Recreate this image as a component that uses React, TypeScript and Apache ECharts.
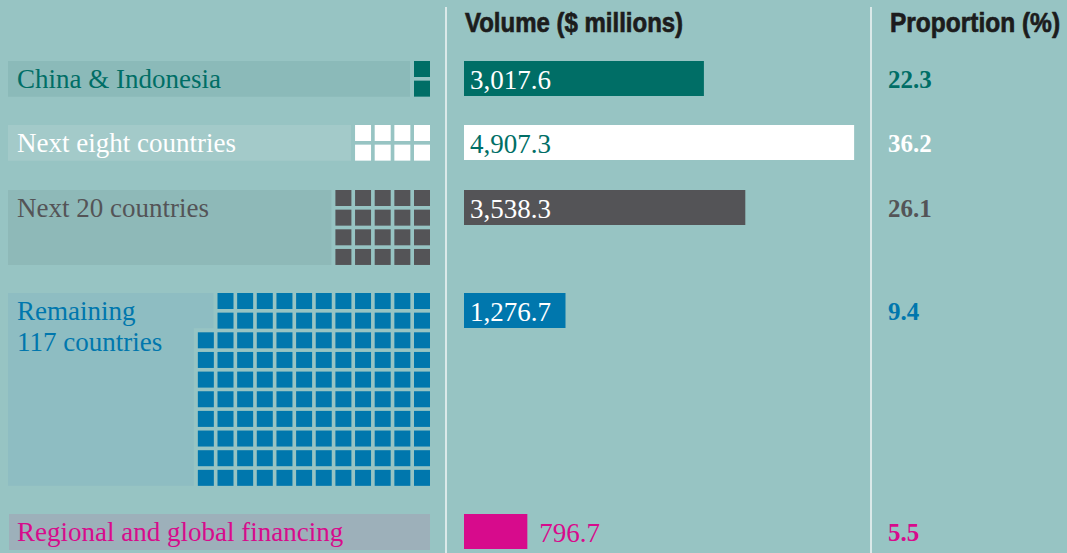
import React, { useEffect, useRef } from "react";
import * as echarts from "echarts";

// ---- data ----
const categories = [
  "China & Indonesia",
  "Next eight countries",
  "Next 20 countries",
  "Remaining\n117 countries",
  "Regional and global financing",
];
const volumes = [3017.6, 4907.3, 3538.3, 1276.7, 796.7];
const volumeLabels = ["3,017.6", "4,907.3", "3,538.3", "1,276.7", "796.7"];
const proportions = [22.3, 36.2, 26.1, 9.4, 5.5];
const countrySquares = [2, 8, 20, 118, 0];
const headers = ["Volume ($ millions)", "Proportion (%)"];

// ---- layout / style ----
const rowTop = [61, 125, 190, 293, 514];
const squareCols = [1, 4, 5, 12, 0];
const squareRows = [2, 2, 4, 10, 0];
const barColors = ["#006e66", "#ffffff", "#545457", "#0077ad", "#d70b8c"];
const textColors = ["#006e66", "#ffffff", "#545457", "#0077ad", "#d70b8c"];
const valueInsideColors = ["#ffffff", "#006e66", "#ffffff", "#ffffff", "#d70b8c"];
const boxFills = ["#8bbab9", "#a3cac9", "#8eb9b8", "#8ebdc2", "#9db0ba"];
const BG = "#97c4c3";
const SERIF = "'Liberation Serif', 'DejaVu Serif', serif";
const SANS = "'Liberation Sans', Arial, sans-serif";

const SQ = 16;
const STEP = 19.65;
const SQ_RIGHT = 430;
const BOX_LEFT = 8;
const BAR_H = 35;

export default function App() {
  const ref = useRef<HTMLDivElement>(null);
  useEffect(() => {
    document.body.style.margin = "0";
    const chart = echarts.init(ref.current!, null, { renderer: "svg" });
    const data = volumes.map((v, i) => [v, rowTop[i], i]);

    const renderItem = (params: any, api: any) => {
      const i = api.value(2);
      const top = api.value(1);
      const children: any[] = [];
      const cols = squareCols[i];
      const rows = squareRows[i];
      const count = countrySquares[i];
      const yTop = api.coord([0, top])[1];

      // label box + squares
      if (cols > 0) {
        const missing = cols * rows - count;
        const colX = (c: number) => SQ_RIGHT - SQ - (cols - 1 - c) * STEP;
        const boxH = rows * STEP - (STEP - SQ);
        if (missing > 0) {
          children.push({
            type: "rect",
            shape: { x: BOX_LEFT, y: yTop, width: colX(1) - 4 - BOX_LEFT, height: missing * STEP - 4 },
            style: { fill: boxFills[i] },
          });
        }
        children.push({
          type: "rect",
          shape: { x: BOX_LEFT, y: yTop, width: colX(0) - 4 - BOX_LEFT, height: boxH },
          style: { fill: boxFills[i] },
        });
        for (let c = 0; c < cols; c++) {
          for (let r = 0; r < rows; r++) {
            if (c === 0 && r < missing) continue;
            children.push({
              type: "rect",
              shape: { x: colX(c), y: yTop + r * STEP, width: SQ, height: SQ },
              style: { fill: barColors[i] },
            });
          }
        }
      } else {
        children.push({
          type: "rect",
          shape: { x: BOX_LEFT + 1, y: yTop, width: SQ_RIGHT - BOX_LEFT - 1, height: 36 },
          style: { fill: boxFills[i] },
        });
      }

      children.push({
        type: "text",
        style: {
          text: categories[i],
          x: 17,
          y: yTop + 2.5,
          fill: textColors[i],
          font: `27px ${SERIF}`,
          lineHeight: 31,
          verticalAlign: "top",
          align: "left",
        },
      });

      // bar
      const p0 = api.coord([0, top]);
      const p1 = api.coord([api.value(0), top]);
      const h = api.size([0, BAR_H])[1];
      const w = p1[0] - p0[0];
      children.push({
        type: "rect",
        shape: { x: p0[0], y: p0[1], width: w, height: h },
        style: { fill: barColors[i] },
      });
      const inside = w > 90;
      children.push({
        type: "text",
        style: {
          text: volumeLabels[i],
          x: inside ? p0[0] + 6 : p1[0] + 12,
          y: p0[1] + h / 2 + 1,
          fill: inside ? valueInsideColors[i] : textColors[i],
          font: `27px ${SERIF}`,
          verticalAlign: "middle",
          align: "left",
        },
      });
      children.push({
        type: "text",
        style: {
          text: proportions[i].toFixed(1),
          x: 888,
          y: p0[1] + h / 2 + 1,
          fill: textColors[i],
          font: `bold 25px ${SERIF}`,
          verticalAlign: "middle",
          align: "left",
        },
      });
      return { type: "group", children };
    };

    chart.setOption({
      animation: false,
      backgroundColor: BG,
      grid: { left: 464, width: 397.5, top: 0, height: 553 },
      xAxis: { type: "value", min: 0, max: 5000, show: false },
      yAxis: { type: "value", min: 0, max: 553, inverse: true, show: false },
      graphic: [
        { type: "line", shape: { x1: 446, y1: 7, x2: 446, y2: 553 }, style: { stroke: "#f2f6f6", lineWidth: 1.5 } },
        { type: "line", shape: { x1: 871, y1: 7, x2: 871, y2: 553 }, style: { stroke: "#f2f6f6", lineWidth: 1.5 } },
        {
          type: "text",
          x: 465,
          y: 22,
          scaleX: 0.857,
          style: {
            text: headers[0],
            font: `bold 28px ${SANS}`,
            fill: "#1c1c1c",
            stroke: "#1c1c1c",
            lineWidth: 0.7,
            verticalAlign: "middle",
          },
        },
        {
          type: "text",
          x: 890,
          y: 22,
          scaleX: 0.875,
          style: {
            text: headers[1],
            font: `bold 28px ${SANS}`,
            fill: "#1c1c1c",
            stroke: "#1c1c1c",
            lineWidth: 0.7,
            verticalAlign: "middle",
          },
        },
      ],
      series: [
        {
          type: "custom",
          renderItem,
          data,
          silent: true,
        },
      ],
    });
    return () => chart.dispose();
  }, []);
  return <div ref={ref} style={{ position: "fixed", left: 0, top: 0, width: 1067, height: 553 }} />;
}
